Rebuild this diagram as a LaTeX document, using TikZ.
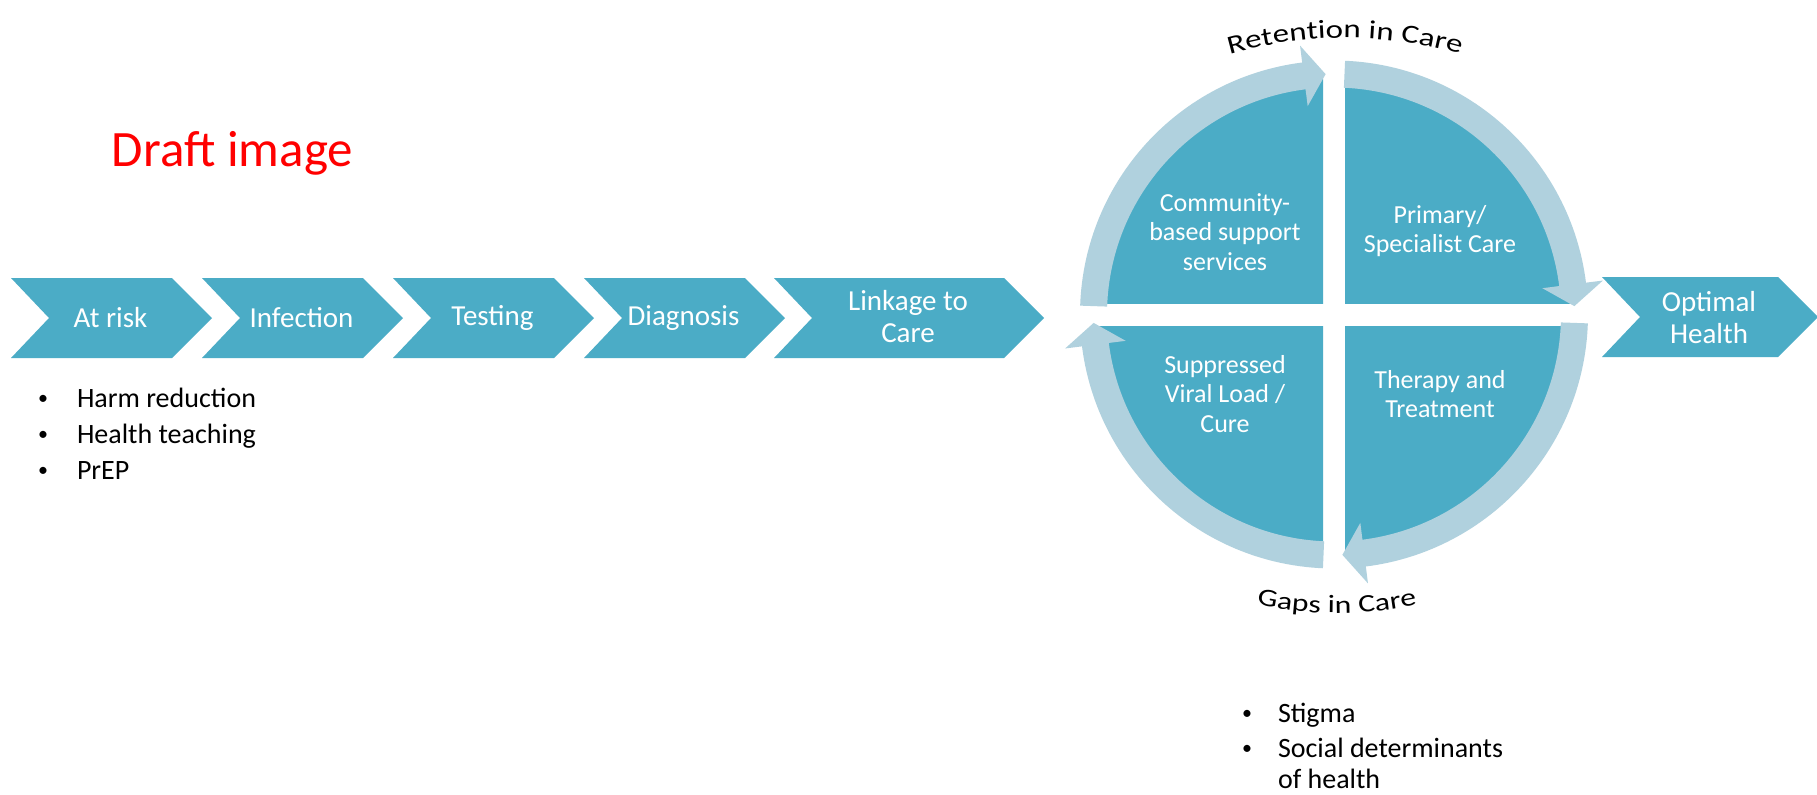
\documentclass[tikz,border=0pt]{standalone}
\usepackage{fontspec}
\setmainfont{Carlito}
\newfontfamily\arcfont[FakeStretch=1.27]{Carlito}
\usetikzlibrary{calc,decorations.text}
\definecolor{darkcol}{RGB}{75,172,198}
\definecolor{ringcol}{RGB}{176,209,222}
\newcommand\chevpath[3]{(#1,-#3) -- (#1+#2,-#3) -- (#1+#2+40,-#3-40) -- (#1+#2,-#3-80) -- (#1,-#3-80) -- (#1+38,-#3-40) -- cycle}
\newcommand\ringseg[3]{%
  \fill[ringcol] (#1:254) arc[start angle=#1, end angle=#2, radius=254]
    -- (#2:271) -- (#3:240.5) -- (#2:210) -- (#2:227)
    arc[start angle=#2, end angle=#1, radius=227] -- cycle;}
\tikzset{
  every node/.style={inner sep=0pt, outer sep=0pt},
  chevtext/.style={text=white, font=\fontsize{14.5}{16}\selectfont, align=center},
  quadtext/.style={text=white, font=\fontsize{13}{14.75}\selectfont, align=center},
  bultext/.style={text=black, font=\fontsize{14}{16}\selectfont, anchor=base west},
  bulmark/.style={text=black, font=\fontsize{10}{12}\selectfont, anchor=base},
}
\begin{document}
\begin{tikzpicture}[x=0.5pt, y=0.5pt]
\useasboundingbox (0,0) rectangle (1817,-794);
\fill[white] (0,0) rectangle (1817,-794);

% title
\node[anchor=base west, text=red, font=\fontsize{25.5}{30}\selectfont] (draft) at (112,-166) {Draft image};

% chevrons
\fill[darkcol] \chevpath{11}{161}{278};
\fill[darkcol] \chevpath{202}{161}{278};
\fill[darkcol] \chevpath{393}{161}{278};
\fill[darkcol] \chevpath{584}{161}{278};
\fill[darkcol] \chevpath{774}{230}{278};
\fill[darkcol] \chevpath{1602}{176}{277};
\node[chevtext] (atrisk) at (110.5,-318) {At risk};
\node[chevtext] (infection) at (301.5,-318) {Infection};
\node[chevtext] (testing) at (492.5,-318) {Testing};
\node[chevtext] (diagnosis) at (683.5,-318) {Diagnosis};
\node[chevtext] (linkage) at (908,-317) {Linkage to\\Care};
\node[chevtext] (optimal) at (1709,-318) {Optimal\\Health};

% left bullets
\node[bulmark] (m1) at (43,-404) {•};
\node[bultext] (h1) at (77,-407) {Harm reduction};
\node[bulmark] (m2) at (43,-440) {•};
\node[bultext] (h2) at (77,-443) {Health teaching};
\node[bulmark] (m3) at (43,-476) {•};
\node[bultext] (h3) at (77,-479) {PrEP};

% cycle
\coordinate (C) at (1334,-314.5);
\begin{scope}[shift={(C)}]
  \begin{scope}\clip (-300,11.5) rectangle (-11,300); \fill[darkcol] (0,0) circle[radius=236]; \end{scope}
  \begin{scope}\clip (11,11.5) rectangle (300,300); \fill[darkcol] (0,0) circle[radius=236]; \end{scope}
  \begin{scope}\clip (-300,-11.5) rectangle (-11,-300); \fill[darkcol] (0,0) circle[radius=236]; \end{scope}
  \begin{scope}\clip (11,-11.5) rectangle (300,-300); \fill[darkcol] (0,0) circle[radius=236]; \end{scope}
  \ringseg{178}{97.2}{92}
  \ringseg{87.5}{7.2}{2}
  \ringseg{-2}{-82.8}{-88}
  \ringseg{-92.5}{-172.8}{-178}
\end{scope}

\node[quadtext] (community) at (1225,-232) {Community-\\based support\\services};
\node[quadtext] (primary) at (1440,-231) {Primary/\\Specialist Care};
\node[quadtext] (suppressed) at (1225,-394) {Suppressed\\Viral Load /\\Cure};
\node[quadtext] (therapy) at (1440,-394) {Therapy and\\Treatment};

% arc labels
\coordinate (RC) at (1345,-458);
\path[decorate, decoration={text along path, text align=center,
   text={|\arcfont\fontsize{13}{15}\selectfont|Retention in Care}}]
   ($(RC)+(108:420)$) arc[start angle=108, end angle=72, radius=420];
\coordinate (GC) at (1337,-213);
\path[decorate, decoration={text along path, text align=center,
   text={|\arcfont\fontsize{12.5}{14}\selectfont|Gaps in Care}}]
   ($(GC)+(-102:400)$) arc[start angle=-102, end angle=-78, radius=400];

% right bullets
\node[bulmark] (m4) at (1247,-719) {•};
\node[bultext] (s1) at (1278,-722) {Stigma};
\node[bulmark] (m5) at (1247,-754) {•};
\node[bultext] (s2) at (1278,-757) {Social determinants};
\node[bultext] (s3) at (1278,-788) {of health};
\end{tikzpicture}
\end{document}
